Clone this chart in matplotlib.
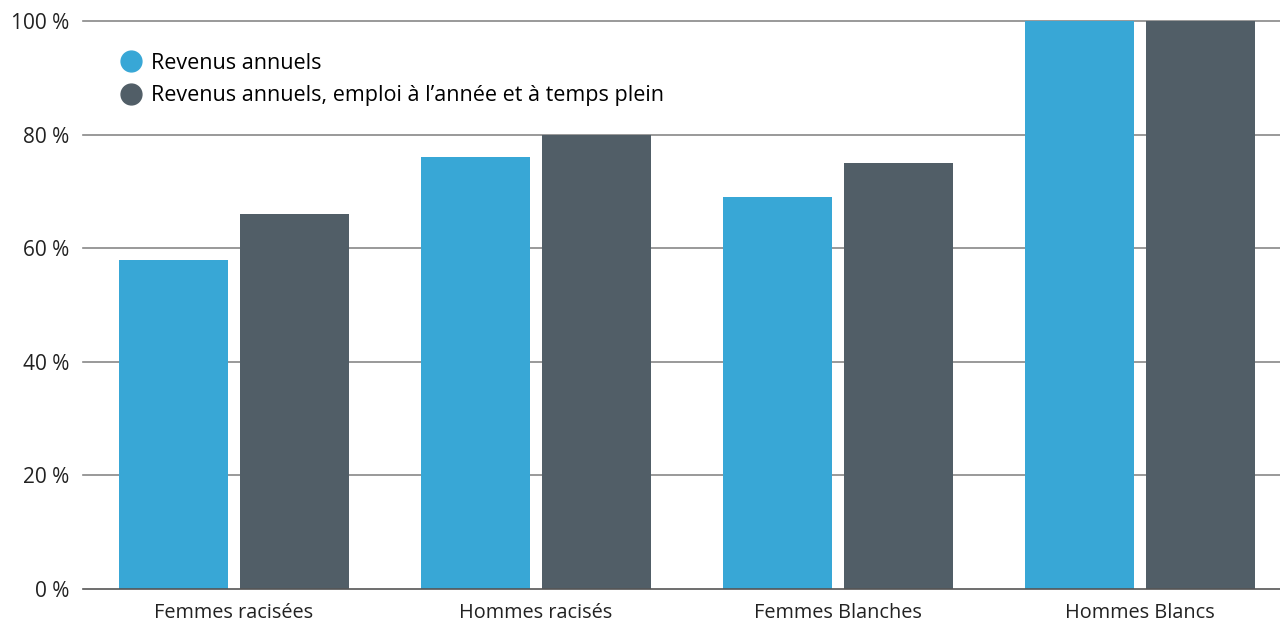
import numpy as np
import matplotlib
matplotlib.use('Agg')
from matplotlib import pyplot as plt
from matplotlib.lines import Line2D

plt.rcParams['font.family'] = ['Open Sans', 'DejaVu Sans']
plt.rcParams['font.size'] = 14

categories = ['Femmes racisées', 'Hommes racisés', 'Femmes Blanches', 'Hommes Blancs']
revenus = [58, 76, 69, 100]
revenus_plein = [66, 80, 75, 100]
series_names = ['Revenus annuels', 'Revenus annuels, emploi à l\u2019année et à temps plein']
yticks = [0, 20, 40, 60, 80, 100]

blue = '#38a7d6'
grey = '#515e67'

fig = plt.figure(figsize=(12.8, 6.21), dpi=100)
ax = fig.add_axes([83/1280, 32/621, 1 - 83/1280, 568/621])

x = np.arange(len(categories))
w = 0.361
ax.bar(x - 0.2, revenus, w, color=blue, zorder=3)
ax.bar(x + 0.2, revenus_plein, w, color=grey, zorder=3)

ax.set_xlim(-0.5, 3.464)
ax.set_ylim(0, 100)
ax.set_yticks(yticks)
ax.set_yticklabels([f'{t} %' for t in yticks], color='#222222', fontsize=15)
ax.set_xticks(x)
ax.set_xticklabels(categories, color='#222222', fontsize=14.3)
ax.tick_params(axis='y', length=0, pad=10)
ax.tick_params(axis='x', length=0, pad=10)
for s in ax.spines.values():
    s.set_visible(False)
# gridlines, baseline darker and on top
for t in yticks:
    ax.axhline(t, color='#888888' if t else '#555555', lw=1.2, zorder=1 if t else 4,
               clip_on=False)

handles = [Line2D([], [], ls='', marker='o', ms=15, color=blue),
           Line2D([], [], ls='', marker='o', ms=15, color=grey)]
ax.legend(handles, series_names, loc='upper left', bbox_to_anchor=(0.0153, 0.9785),
          frameon=False, handletextpad=0.39, labelspacing=0.55, fontsize=15.5,
          handlelength=1.0)

fig.savefig('out.png', dpi=100)
